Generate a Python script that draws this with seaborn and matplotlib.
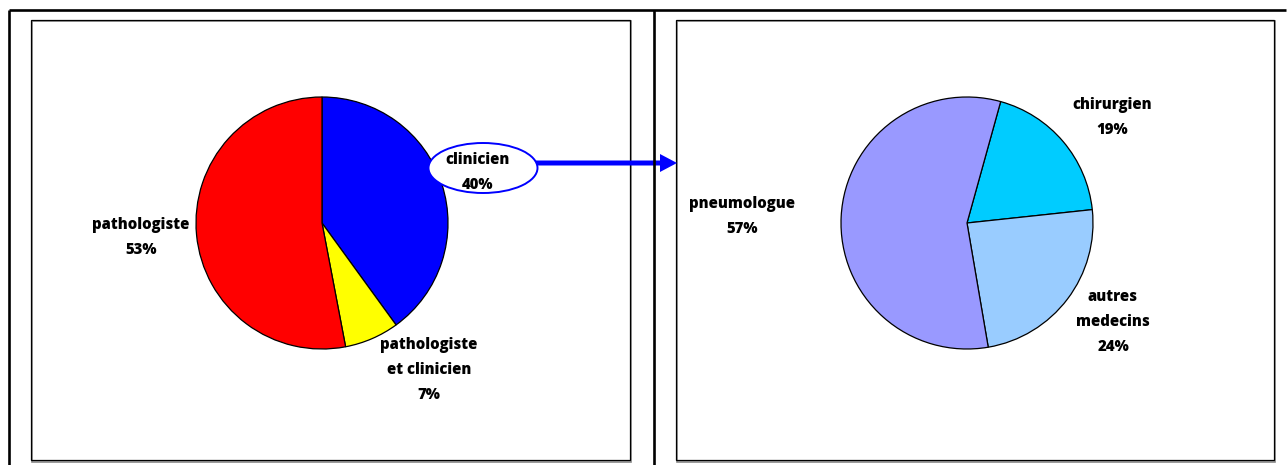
import matplotlib
matplotlib.use("Agg")
import matplotlib.pyplot as plt
import seaborn as sns
from matplotlib.patches import Rectangle, Ellipse, FancyArrow

# ---- data ----
left_labels = ["clinicien", "pathologiste\net clinicien", "pathologiste"]
left_values = [40, 7, 53]
left_colors = ["#0000FF", "#FFFF00", "#FF0000"]

right_labels = ["chirurgien", "autres\nmedecins", "pneumologue"]
right_values = [19, 24, 57]
right_colors = ["#00CCFF", "#99CCFF", "#9999FF"]

sns.set_theme(style="white")
plt.rcParams['font.family'] = ['Open Sans', 'DejaVu Sans']

W, H = 1288, 465
fig = plt.figure(figsize=(W / 100, H / 100), dpi=100)
fig.patch.set_facecolor("white")


def pie_axes(cx, cy, r):
    ax = fig.add_axes([(cx - r) / W, 1 - (cy + r) / H, 2 * r / W, 2 * r / H])
    return ax


def finish(ax):
    ax.set_xlim(-1, 1)
    ax.set_ylim(-1, 1)
    ax.axis("off")


axl = pie_axes(322, 223, 126)
axl.pie(left_values, colors=left_colors, startangle=90, counterclock=False,
        radius=1, wedgeprops=dict(edgecolor="black", linewidth=0.9))
finish(axl)

axr = pie_axes(967, 223, 126)
axr.pie(right_values, colors=right_colors, startangle=74.5, counterclock=False,
        radius=1, wedgeprops=dict(edgecolor="black", linewidth=0.9))
finish(axr)

# overlay in pixel coordinates
ov = fig.add_axes([0, 0, 1, 1], zorder=5)
ov.set_xlim(0, W)
ov.set_ylim(H, 0)
ov.axis("off")
ov.patch.set_alpha(0)

# outer frame
ov.plot([9, 1286], [10, 10], color="black", lw=1.9, solid_capstyle="butt")
ov.plot([9, 9], [10, 466], color="black", lw=1.9, solid_capstyle="butt")
ov.plot([654, 654], [10, 466], color="black", lw=1.9, solid_capstyle="butt")

# inner boxes with a soft shadow
for x0, x1 in [(31, 630), (676, 1274)]:
    ov.add_patch(Rectangle((x0 + 1.5, 21.5), x1 - x0, 440, fill=False,
                           edgecolor="#888888", lw=1.2))
    ov.add_patch(Rectangle((x0, 20), x1 - x0, 440, fill=False,
                           edgecolor="black", lw=0.9))

# arrow and callout ellipse
ov.add_patch(FancyArrow(535, 163, 142, 0, width=5, head_width=18,
                        head_length=17, length_includes_head=True,
                        color="#0000FF", lw=0))
ov.add_patch(Ellipse((483, 168), 109, 50, facecolor="white",
                     edgecolor="#0000FF", lw=1.4, zorder=3))

txt = dict(ha="center", va="center", fontsize=10.7, fontweight=800,
           linespacing=1.75, color="black", zorder=4)

left_pos = [(478, 172), (429, 370), (141, 237)]
right_pos = [(1112, 117), (1113, 322), (742, 216)]

for lab, v, (x, y) in zip(left_labels, left_values, left_pos):
    ov.text(x, y, f"{lab}\n{v}%", **txt)
for lab, v, (x, y) in zip(right_labels, right_values, right_pos):
    ov.text(x, y, f"{lab}\n{v}%", **txt)

fig.savefig("out.png", dpi=100)
